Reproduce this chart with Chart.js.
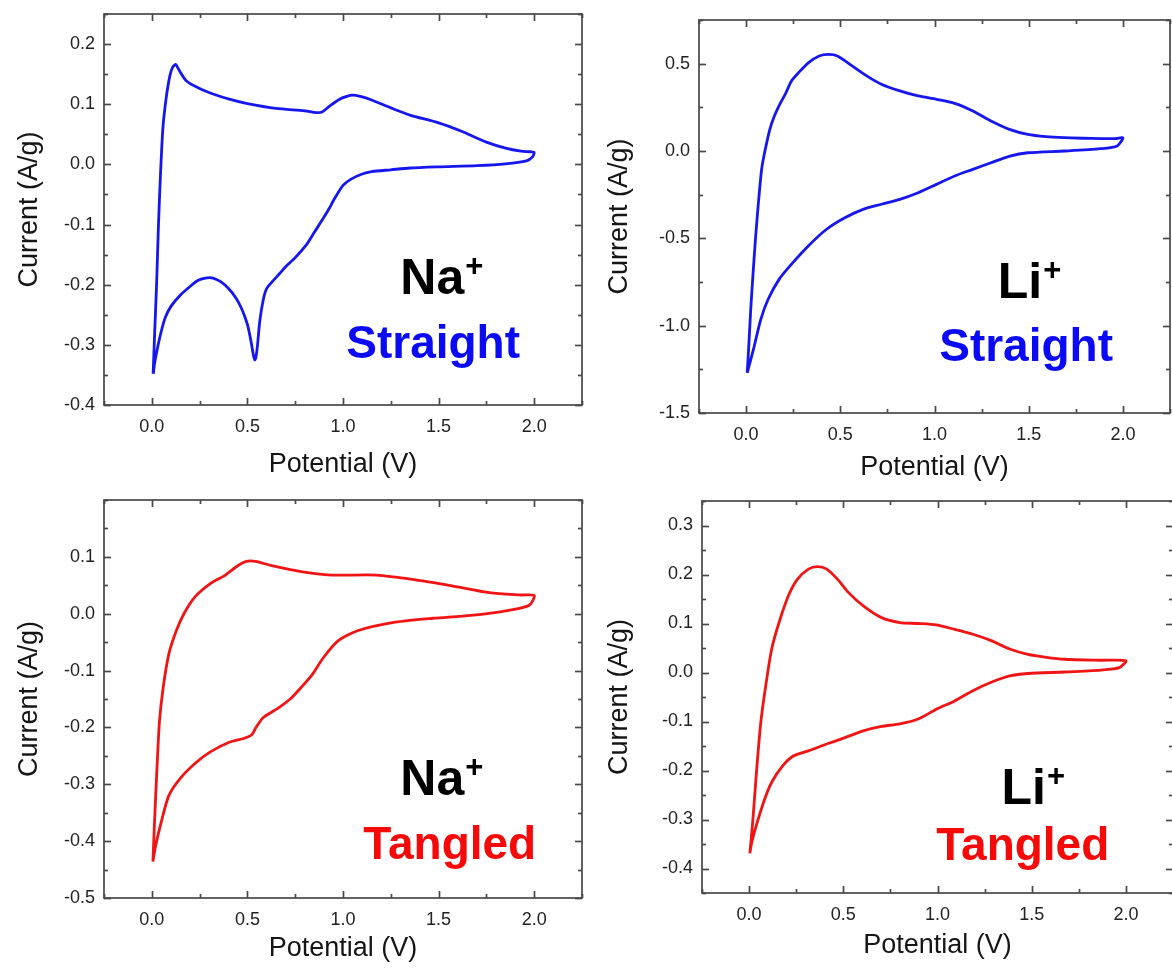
<!DOCTYPE html>
<html>
<head>
<meta charset="utf-8">
<script src="https://cdn.jsdelivr.net/npm/chart.js@4.4.1/dist/chart.umd.min.js"></script>
<style>
html,body{margin:0;padding:0;background:#fff;overflow:hidden;width:1172px;height:970px;}
canvas{position:absolute;}
</style>
</head>
<body>
<canvas id="c1"></canvas>
<canvas id="c2"></canvas>
<canvas id="c3"></canvas>
<canvas id="c4"></canvas>
<script>
// ---------- tick labels ----------
const potentialTicks = [0.0, 0.5, 1.0, 1.5, 2.0];
const naStraightCurrentTicks = [-0.4, -0.3, -0.2, -0.1, 0.0, 0.1, 0.2];
const liStraightCurrentTicks = [-1.5, -1.0, -0.5, 0.0, 0.5];
const naTangledCurrentTicks = [-0.5, -0.4, -0.3, -0.2, -0.1, 0.0, 0.1];
const liTangledCurrentTicks = [-0.4, -0.3, -0.2, -0.1, 0.0, 0.1, 0.2, 0.3];

// ---------- Na+ / Straight (closed CV loop) ----------
const naStraightPotential = [
  0.007,0.015,0.025,0.035,0.045,0.058,0.075,0.095,0.11,0.126,0.14,0.18,0.25,0.32,0.41,0.5,0.65,0.8,0.86,0.89,
  0.93,0.98,1.02,1.05,1.09,1.15,1.25,1.35,1.5,1.62,1.75,1.85,1.93,1.98,2.0,
  1.99,1.96,1.85,1.7,1.5,1.35,1.25,1.15,1.1,1.04,1.0,0.95,0.93,0.9,0.85,0.81,0.75,0.7,0.67,0.63,
  0.6,0.583,0.565,0.553,0.545,0.539,0.532,0.52,0.5,0.47,0.44,0.4,0.36,0.32,0.28,0.24,0.2,0.15,0.1,0.07,
  0.05,0.03,0.015,0.008];
const naStraightCurrent = [
  -0.348,-0.28,-0.2,-0.1,-0.02,0.06,0.11,0.148,0.162,0.166,0.158,0.139,0.126,0.117,0.108,0.101,0.093,0.089,0.086,0.087,
  0.097,0.108,0.113,0.115,0.113,0.107,0.094,0.082,0.069,0.055,0.037,0.027,0.022,0.021,0.02,
  0.012,0.006,0.001,-0.002,-0.004,-0.006,-0.009,-0.012,-0.016,-0.025,-0.035,-0.06,-0.072,-0.088,-0.113,-0.133,-0.155,-0.17,-0.181,-0.195,
  -0.207,-0.225,-0.26,-0.3,-0.32,-0.325,-0.318,-0.296,-0.266,-0.24,-0.222,-0.206,-0.195,-0.189,-0.189,-0.193,-0.203,-0.217,-0.236,-0.255,
  -0.277,-0.305,-0.33,-0.348];

// ---------- Li+ / Straight ----------
const liStraightPotential = [
  0.006,0.015,0.025,0.037,0.05,0.065,0.083,0.1,0.125,0.15,0.18,0.21,0.24,0.28,0.33,0.388,0.437,0.485,0.563,0.64,
  0.718,0.816,0.913,1.01,1.107,1.204,1.3,1.398,1.495,1.592,1.689,1.786,1.883,1.961,2.0,
  1.97,1.88,1.69,1.495,1.4,1.3,1.204,1.107,1.01,0.913,0.816,0.718,0.621,0.524,0.427,0.33,0.233,0.175,0.117,0.078,
  0.039,0.006];
const liStraightCurrent = [
  -1.27,-1.1,-0.9,-0.7,-0.5,-0.3,-0.1,0.0,0.12,0.2,0.27,0.33,0.4,0.45,0.505,0.544,0.553,0.544,0.487,0.43,
  0.382,0.344,0.315,0.296,0.273,0.229,0.172,0.124,0.095,0.082,0.076,0.073,0.071,0.071,0.076,
  0.029,0.013,0.0,-0.01,-0.029,-0.067,-0.105,-0.143,-0.191,-0.239,-0.277,-0.305,-0.334,-0.382,-0.448,-0.544,-0.658,-0.735,-0.849,-0.964,
  -1.136,-1.27];

// ---------- Na+ / Tangled ----------
const naTangledPotential = [
  0.006,0.014,0.026,0.04,0.059,0.089,0.128,0.168,0.227,0.306,0.385,0.444,0.494,0.543,0.622,0.78,0.938,1.175,1.372,1.57,
  1.767,1.925,2.0,
  1.974,1.866,1.668,1.471,1.273,1.076,0.977,0.898,0.839,0.78,0.721,0.661,0.582,0.543,0.523,0.484,0.405,0.306,0.227,0.148,
  0.089,0.049,0.02,0.006];
const naTangledCurrent = [
  -0.436,-0.368,-0.279,-0.19,-0.131,-0.071,-0.03,0.0,0.03,0.053,0.068,0.083,0.092,0.092,0.085,0.074,0.068,0.068,0.06,0.049,
  0.037,0.033,0.032,
  0.015,0.006,-0.003,-0.008,-0.015,-0.03,-0.047,-0.077,-0.107,-0.13,-0.151,-0.166,-0.183,-0.201,-0.213,-0.219,-0.226,-0.243,-0.263,-0.29,
  -0.32,-0.367,-0.408,-0.436];

// ---------- Li+ / Tangled ----------
const liTangledPotential = [
  0.004,0.019,0.039,0.062,0.091,0.12,0.159,0.208,0.256,0.315,0.363,0.412,0.47,0.528,0.606,0.703,0.8,0.897,0.994,1.091,
  1.188,1.285,1.383,1.48,1.577,1.674,1.868,2.0,
  1.965,1.868,1.674,1.48,1.383,1.285,1.188,1.091,0.994,0.897,0.8,0.703,0.606,0.509,0.412,0.315,0.237,0.179,0.12,0.082,
  0.043,0.014,0.004];
const liTangledCurrent = [
  -0.369,-0.306,-0.204,-0.102,-0.02,0.048,0.102,0.156,0.19,0.211,0.216,0.211,0.19,0.163,0.136,0.112,0.102,0.1,0.097,0.088,
  0.078,0.065,0.048,0.037,0.031,0.027,0.025,0.024,
  0.01,0.005,0.001,-0.002,-0.007,-0.02,-0.037,-0.058,-0.075,-0.095,-0.105,-0.11,-0.119,-0.133,-0.146,-0.16,-0.17,-0.19,-0.224,-0.259,
  -0.306,-0.347,-0.369];

// ---------- styling / layout ----------
const FONT = '"Liberation Sans", Arial, Helvetica, sans-serif';
const BLUE = 'rgb(22,22,238)';
const RED = 'rgb(240,20,20)';
const TEXT_BLUE = 'rgb(10,10,245)';
const TEXT_RED = 'rgb(245,10,10)';

const panels = [
  {id:'c1', V:naStraightPotential, I:naStraightCurrent, yTicks:naStraightCurrentTicks,
   yMin:-0.4, yMax:0.25, yMinor:0.05, color:BLUE,
   box:{L:104,T:14,R:582,B:405}, divLeft:0, titleGap:60,
   labels:[{text:'Na', sup:'+', x:1.30, y:-0.216, color:'#000', size:50},
           {text:'Straight', x:1.017, y:-0.3225, color:TEXT_BLUE, size:46}]},
  {id:'c2', V:liStraightPotential, I:liStraightCurrent, yTicks:liStraightCurrentTicks,
   yMin:-1.5, yMax:0.75, yMinor:0.25, color:BLUE,
   box:{L:699,T:20,R:1170,B:413}, divLeft:590, titleGap:55,
   labels:[{text:'Li', sup:'+', x:1.336, y:-0.84, color:'#000', size:50},
           {text:'Straight', x:1.025, y:-1.202, color:TEXT_BLUE, size:46}]},
  {id:'c3', V:naTangledPotential, I:naTangledCurrent, yTicks:naTangledCurrentTicks,
   yMin:-0.5, yMax:0.2, yMinor:0.05, color:RED,
   box:{L:104,T:500,R:582,B:898}, divLeft:0, titleGap:51,
   labels:[{text:'Na', sup:'+', x:1.30, y:-0.318, color:'#000', size:50},
           {text:'Tangled', x:1.106, y:-0.432, color:TEXT_RED, size:46}]},
  {id:'c4', V:liTangledPotential, I:liTangledCurrent, yTicks:liTangledCurrentTicks,
   yMin:-0.45, yMax:0.35, yMinor:0.05, color:RED,
   box:{L:702,T:501,R:1173,B:893}, divLeft:590, titleGap:53,
   labels:[{text:'Li', sup:'+', x:1.34, y:-0.269, color:'#000', size:50},
           {text:'Tangled', x:0.994, y:-0.382, color:TEXT_RED, size:46}]}
];
const panelById = {};
panels.forEach(p => panelById[p.id] = p);

const framePlugin = {
  id: 'frameTicks',
  afterDatasetsDraw(chart) {
    const p = panelById[chart.canvas.id];
    const {ctx, chartArea: a, scales: {x, y}} = chart;
    ctx.save();
    ctx.strokeStyle = '#484848';
    ctx.lineWidth = 1.7;
    ctx.lineCap = 'butt';
    const seg = (x1, y1, x2, y2) => { ctx.beginPath(); ctx.moveTo(x1, y1); ctx.lineTo(x2, y2); ctx.stroke(); };
    const xTick = (v, len) => { const px = Math.round(x.getPixelForValue(v)) + 0.5; seg(px, a.bottom, px, a.bottom - len); seg(px, a.top, px, a.top + len); };
    const yTick = (v, len) => { const py = Math.round(y.getPixelForValue(v)) + 0.5; seg(a.left, py, a.left + len, py); seg(a.right, py, a.right - len, py); };
    for (let k = 0; ; k++) {
      const v = Math.round((x.min + k * 0.25) * 1000) / 1000;
      if (v > x.max + 1e-9) break;
      if (!potentialTicks.some(t => Math.abs(t - v) < 1e-6)) xTick(v, 4);
    }
    for (let k = 0; ; k++) {
      const v = Math.round((y.min + k * p.yMinor) * 1000) / 1000;
      if (v > y.max + 1e-9) break;
      if (!p.yTicks.some(t => Math.abs(t - v) < 1e-6)) yTick(v, 4);
    }
    potentialTicks.forEach(v => xTick(v, 7));
    p.yTicks.forEach(v => yTick(v, 7));
    ctx.strokeRect(a.left, a.top, a.right - a.left, a.bottom - a.top);
    ctx.restore();
  }
};

const annotPlugin = {
  id: 'annot',
  afterDraw(chart) {
    const p = panelById[chart.canvas.id];
    const {ctx, scales: {x, y}} = chart;
    ctx.save();
    ctx.textAlign = 'left';
    ctx.textBaseline = 'alphabetic';
    p.labels.forEach(l => {
      const px = x.getPixelForValue(l.x), py = y.getPixelForValue(l.y);
      ctx.fillStyle = l.color;
      ctx.font = 'bold ' + l.size + 'px ' + FONT;
      ctx.fillText(l.text, px, py);
      if (l.sup) {
        const w = ctx.measureText(l.text).width;
        ctx.font = 'bold ' + Math.round(l.size * 0.62) + 'px ' + FONT;
        ctx.fillText(l.sup, px + w + 1, py - l.size * 0.36);
      }
    });
    ctx.restore();
  }
};

function makeChart(p) {
  const cv = document.getElementById(p.id);
  const padTop = 10, padRight = 6, xh = 80;
  const left = p.divLeft, top = p.box.T - padTop;
  const w = p.box.R + padRight - left, h = p.box.B + xh - top;
  cv.width = w; cv.height = h;
  cv.style.left = left + 'px'; cv.style.top = top + 'px';
  cv.style.width = w + 'px'; cv.style.height = h + 'px';
  const yw = p.box.L - left;
  const titleSize = 27, titleLH = titleSize * 1.2;
  new Chart(cv, {
    type: 'scatter',
    data: {
      datasets: [{
        data: p.V.map((v, i) => ({x: v, y: p.I[i]})),
        showLine: true, fill: false,
        borderColor: p.color, borderWidth: 2.8,
        pointRadius: 0, pointHoverRadius: 0,
        tension: 0.25
      }]
    },
    options: {
      responsive: false, animation: false, devicePixelRatio: 1,
      layout: {padding: {top: padTop, right: padRight, left: 0, bottom: 0}},
      plugins: {legend: {display: false}, tooltip: {enabled: false}},
      scales: {
        x: {
          type: 'linear', position: 'bottom', min: -0.25, max: 2.25,
          afterFit: s => { s.height = xh; s.paddingLeft = 0; s.paddingRight = 0; },
          afterBuildTicks: s => { s.ticks = potentialTicks.map(v => ({value: v})); },
          grid: {display: false, drawTicks: false},
          border: {display: false},
          ticks: {padding: 11, color: '#222', font: {family: FONT, size: 18}, maxRotation: 0,
                  callback: v => Number(v).toFixed(1)},
          title: {display: true, text: 'Potential (V)', color: '#151515',
                  font: {family: FONT, size: titleSize},
                  padding: {top: 0, bottom: xh - p.titleGap - titleLH / 2}}
        },
        y: {
          type: 'linear', position: 'left', min: p.yMin, max: p.yMax,
          afterFit: s => { s.width = yw; s.paddingTop = 0; s.paddingBottom = 0; },
          afterBuildTicks: s => { s.ticks = p.yTicks.map(v => ({value: v})); },
          grid: {display: false, drawTicks: false},
          border: {display: false},
          ticks: {padding: 9, color: '#222', font: {family: FONT, size: 18},
                  callback: v => Number(v).toFixed(1)},
          title: {display: true, text: 'Current (A/g)', color: '#151515',
                  font: {family: FONT, size: titleSize},
                  padding: {top: 30 - titleLH / 2, bottom: 0}}
        }
      }
    },
    plugins: [framePlugin, annotPlugin]
  });
}
panels.forEach(makeChart);
</script>
</body>
</html>
